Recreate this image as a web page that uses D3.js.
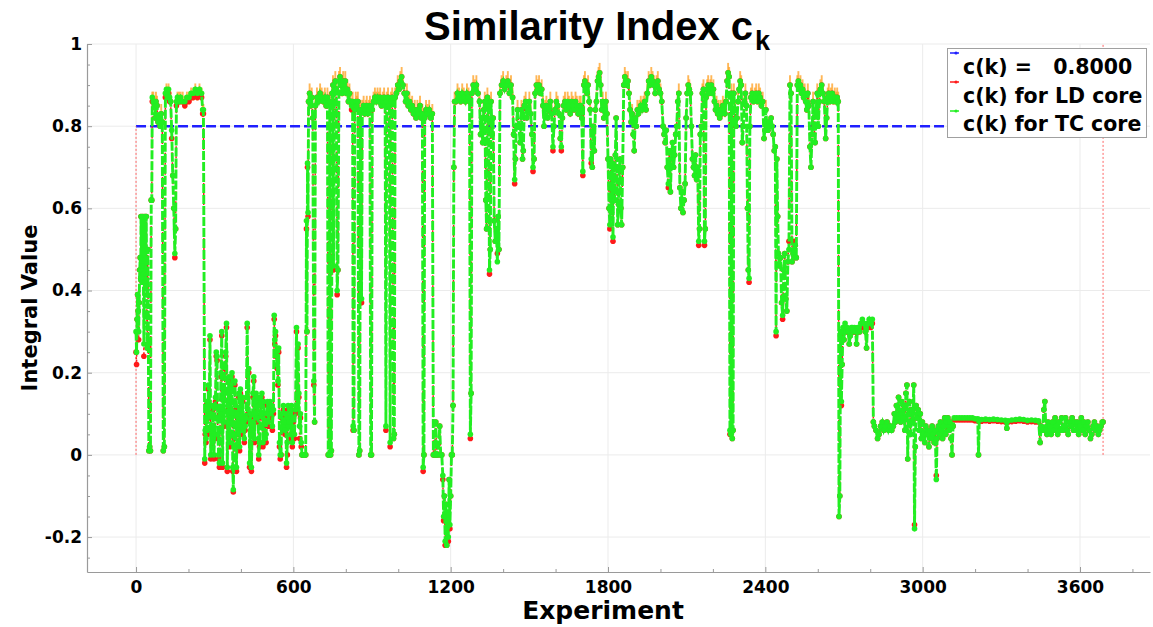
<!DOCTYPE html>
<html><head><meta charset="utf-8">
<script src="https://cdn.jsdelivr.net/npm/d3@7"></script>
<style>body{margin:0;background:#fff}svg{display:block}</style>
</head><body><svg id="chart" width="1153" height="627"></svg>
<script>
// ---------------- DATA ----------------
const experiments = [
0,2,4,6,8,10,12,14,16,18,19,22,24,26,28,30,32,34,37,39,
41,43,45,47,49,52,55,58,60,62,66,70,73,76,80,84,88,92,96,100,
104,108,112,116,120,124,128,132,136,140,144,148,151,154,158,164,170,178,186,194,
202,210,218,226,234,242,250,254,257,
262,264,267,270,273,276,279,282,285,288,291,294,297,300,303,306,309,312,315,318,
321,324,327,330,333,336,339,342,345,348,351,354,357,360,363,366,369,371,374,377,
380,383,386,389,392,395,398,401,404,407,410,413,416,420,424,427,430,433,436,440,
443,446,449,452,455,458,461,464,468,471,474,477,480,484,487,490,493,496,499,502,
505,508,511,514,517,520,524,527,529,532,535,538,541,544,547,550,553,556,559,562,
565,568,571,574,577,580,584,587,590,593,596,600,604,608,612,615,618,621,624,627,
630,633,636,640,644,
647,650,652,654,656,658,662,666,670,674,678,681,684,690,696,702,708,714,720,725,
730,733,736,739,742,745,748,751,753,756,760,764,767,770,774,778,782,786,790,794,
798,802,806,810,814,818,822,826,828,831,834,838,842,846,850,853,856,860,863,868,
872,876,880,884,888,892,895,898,901,906,911,916,921,926,931,936,941,946,950,953,
956,961,966,969,972,977,982,985,988,993,998,1003,1008,1013,1018,1023,1028,1033,1038,1043,
1048,1053,1058,1063,1068,1073,1078,1083,1088,1092,1095,1098,1101,1106,1112,1118,1124,1130,1134,1140,
1143,1146,1152,1158,1162,1166,1170,1173,1176,1179,1182,1185,1188,1191,1194,1197,1200,1203,1206,1209,
1212,1215,
1220,1226,1232,1238,1244,1250,1256,1262,1268,1272,1275,1278,1281,1286,1292,1298,1304,1310,1314,1318,
1322,1326,1330,1334,1337,1340,1344,1348,1351,1354,1358,1362,1366,1370,1374,1378,1381,1384,1388,1394,
1400,1406,1412,1418,1424,1430,1436,1440,1444,1447,1450,1455,1460,1465,1470,1474,1477,1481,1486,1490,
1495,1500,1505,1510,1514,1518,1522,1527,1532,1537,1542,1547,1552,1556,1560,1565,1570,1575,1580,1585,
1590,1594,1598,1603,1608,1613,1618,1622,1626,1631,1636,1641,1646,1651,1656,1661,1666,1671,1676,1681,
1686,1691,
1696,1700,1704,1708,1712,1716,1720,1724,1728,1732,1736,1740,1744,1748,1752,1756,1760,1764,1768,1772,
1776,1780,1784,1788,1792,1796,1800,1804,1807,1810,1813,1816,1819,1822,1825,1828,1831,1834,1837,1840,
1843,1846,1849,1852,1856,1860,1864,1868,1872,1876,1880,1884,1888,1892,1896,1900,1904,1908,1912,1916,
1920,1925,1930,1935,1940,1945,1950,1955,1960,1965,1970,1975,1980,1985,1990,1995,2000,2005,2010,2014,
2018,2022,2026,2030,2034,2038,2042,2046,2050,2054,2058,2062,2066,2070,2074,2078,2082,2086,2090,2094,
2098,2102,2106,2110,2114,2118,2122,2126,2130,2134,2138,2142,2146,2149,2152,2156,2160,2164,2168,2171,
2174,2178,2182,2186,2190,2194,2198,2202,2206,2210,2214,2218,2222,2226,2230,2234,2238,2242,2246,2250,
2254,2258,2262,2265,2268,2271,2274,2277,2280,2284,2288,2292,2296,2300,2304,2308,2312,2316,2320,2324,
2328,2332,2335,2338,2341,2345,2350,2355,2360,2365,2370,2375,2380,2385,2390,2395,2398,2402,2406,2410,
2414,2418,2422,2426,2430,2434,2438,2441,2444,2447,2450,2454,2458,2462,2466,2470,2474,2478,2482,2486,
2490,2494,2498,2502,2506,2510,2514,2518,2522,2526,2530,2534,2538,2542,2546,2550,2554,2558,2562,2566,
2570,2574,2578,2582,2586,2590,2594,2598,2602,2606,2610,2615,2620,2625,2630,2634,2638,2642,2646,2650,
2655,2660,2665,2670,2674,2678,2681,2684,2687,2690,2693,2696,2700,2704,2708,2712,2716,2720,2724,2728,
2732,2736,2740,2744,2748,2752,2756,2760,
2764,2770,2776,2782,2786,2790,2796,2802,2808,2812,2816,2822,2828,2834,2840,2846,2852,2858,2864,2870,
2876,2882,2888,2892,2896,2900,2904,2908,2912,2916,2920,2924,2928,2932,2936,2940,2943,2946,2950,2954,
2958,2962,2966,2969,2972,2975,2979,2983,2987,2991,2995,2999,3003,3008,3012,3016,3020,3024,3028,3032,
3036,3040,3044,3048,3052,3055,3060,3064,3068,3072,3076,3080,3084,3088,3092,3096,3100,3104,3108,3112,
3116,3120,3130,3140,3150,3160,3170,3180,3190,3200,3210,3213,3216,3225,3240,3255,3270,3285,3300,3315,
3321,3326,3340,3355,3370,3385,3400,3415,3430,3442,3448,3452,3458,3462,3466,3470,3474,3478,3482,3486,
3490,3495,3500,3505,3510,3515,3520,3525,3530,3535,3540,3545,3550,3555,3560,3565,3570,3575,3580,3585,
3590,3595,3600,3605,3610,3615,3620,3625,3630,3635,3640,3645,3650,3655,3660,3665,3670,3675,3680,3685,
3688
];

const tcCore = [
.30,.25,.33,.39,.35,.30,.37,.45,.48,.43,.58,.46,.42,.58,.44,.27,.42,.58,.41,.58,
.34,.26,.50,.27,.01,.02,.01,.62,.62,.87,.86,.85,.82,.86,.85,.81,.82,.80,.83,.81,
.01,.02,.88,.89,.87,.89,.87,.86,.79,.68,.60,.49,.55,.86,.87,.86,.87,.86,.86,.87,
.87,.88,.88,.89,.88,.89,.88,.84,.84,
-.01,.06,.04,.13,.06,.17,.10,.29,0,.07,.03,.12,0,.05,.14,.25,.24,.05,0,-.02,
.10,.20,.30,-.02,.15,.08,.22,.25,.32,-.03,.12,.19,.03,.17,.09,.20,-.03,-.085,.05,.18,
.12,-.03,.10,.06,.15,.02,.16,.11,.06,.14,.08,.04,.07,.09,.32,.11,.21,-.02,.10,-.03,
.06,.15,.19,.04,.13,.15,.09,.14,0,.03,.14,.10,.15,.03,.13,.08,.04,.05,.10,.13,
.08,.12,.13,.10,.12,.07,.11,.34,.28,.30,.25,.22,.18,.26,.03,0,0,.10,.07,.12,
.08,.06,.10,-.02,.03,.12,.08,.11,.05,.12,.03,.09,.05,.11,.31,.12,.27,.15,.07,.10,
.03,0,0,0,0,
0,.57,.30,.71,.59,.86,.88,.85,.87,.82,.18,.08,.85,.87,.86,.88,.87,.86,.87,.85,
.87,0,0,.86,0,.01,.88,.90,.46,.88,.91,.89,.40,.45,.91,.92,.90,.88,.91,.89,
.91,.88,.89,.86,.88,.86,.85,.86,.07,.06,.84,.86,.85,.86,0,.01,.84,.38,.84,.85,
.83,.84,.85,.83,.84,.85,0,0,.84,.86,.87,.86,.87,.86,.87,.85,.86,.87,.85,.07,
.86,.87,.85,.03,.86,.87,.04,.05,.87,.88,.90,.89,.91,.92,.90,.88,.86,.88,.85,.86,
.84,.85,.83,.84,.82,.84,.83,.85,.82,.83,-.03,0,.82,.84,.83,.84,.82,.83,0,0,
.08,0,0,.07,0,0,-.05,-.15,-.10,-.21,-.12,-.22,-.16,-.20,-.06,-.17,-.10,0,0,.12,
.70,.86,
.86,.88,.87,.86,.88,.87,.86,.88,.87,.86,.05,.15,.88,.90,.89,.90,.88,.86,.78,.82,
.76,.84,.86,.62,.55,.87,.85,.45,.50,.86,.78,.82,.57,.52,.55,.47,.58,.50,.88,.90,
.91,.89,.90,.91,.88,.90,.87,.78,.67,.72,.80,.84,.80,.76,.84,.72,.74,.85,.86,.82,
.84,.86,.83,.78,.70,.72,.88,.90,.89,.90,.88,.89,.85,.80,.84,.85,.82,.84,.86,.83,
.75,.80,.84,.86,.85,.83,.77,.75,.82,.85,.86,.84,.86,.85,.83,.86,.85,.84,.86,.85,
.83,.85,
.85,.82,.69,.90,.91,.89,.88,.90,.86,.84,.72,.70,.80,.74,.84,.86,.91,.92,.93,.90,
.84,.86,.82,.84,.86,.83,.72,.60,.56,.72,.59,.71,.53,.70,.62,.73,.82,.70,.56,.61,
.70,.72,.60,.56,.70,.90,.92,.91,.90,.91,.88,.84,.81,.83,.78,.74,.82,.80,.84,.83,
.84,.85,.84,.85,.86,.84,.88,.91,.90,.92,.91,.90,.88,.90,.91,.89,.88,.86,.80,.78,
.76,.79,.70,.66,.74,.64,.72,.76,.70,.73,.78,.80,.86,.88,.65,.60,.64,.59,.62,.66,
.82,.88,.90,.89,.88,.80,.72,.70,.68,.73,.67,.70,.52,.55,.78,.80,.88,.89,.52,.55,
.87,.89,.90,.88,.89,.90,.88,.89,.86,.84,.85,.83,.84,.82,.84,.83,.85,.84,.83,.86,
.91,.93,.92,.06,.05,.88,.04,.06,.88,.84,.80,.82,.86,.89,.91,.90,.76,.80,.86,.88,
.85,.60,.45,.43,.80,.87,.88,.86,.87,.88,.86,.88,.87,.85,.86,.77,.79,.84,.80,.79,
.81,.80,.82,.80,.78,.74,.75,.30,.72,.58,.49,.46,.48,.37,.34,.45,.49,.38,.35,.47,
.50,.90,.88,.47,.49,.50,.51,.48,.90,.91,.89,.90,.88,.89,.87,.88,.86,.84,.88,.85,
.75,.70,.78,.86,.80,.76,.84,.88,.80,.86,.89,.90,.88,.86,.77,.82,.87,.88,.86,.87,
.88,.86,.87,.86,.87,.86,-.15,-.10,.30,.13,.22,.31,.28,.32,.30,.31,.30,.27,.29,.31,
.31,.30,.31,.30,.27,.31,.31,.30,
.32,.33,.32,.30,.26,.32,.33,.32,.33,.08,.07,.06,.04,.05,.07,.08,.06,.07,.08,.06,
.07,.06,.07,.10,.08,.12,.09,.14,.10,.08,.13,.09,.12,.06,.15,.17,-.01,.10,.13,.05,
.11,.08,.17,-.18,.02,.12,.09,.11,.06,.10,.04,.08,.05,.03,.07,.05,.06,.02,.06,.04,
.07,.05,.03,.06,-.06,.04,.07,.05,.08,.06,.04,.07,.09,.05,.08,.09,.06,.08,.04,0,
.07,.09,.09,.09,.09,.09,.09,.09,.09,.088,.088,0,.086,.086,.087,.086,.087,.086,.085,.084,
.065,.083,.085,.086,.087,.086,.084,.085,.084,.083,.03,.07,.06,.11,.13,.06,.05,.08,.06,.07,
.05,.08,.06,.09,.07,.05,.08,.06,.09,.06,.07,.09,.06,.05,.08,.07,.09,.06,.08,.06,
.08,.05,.07,.09,.06,.08,.05,.07,.08,.06,.04,.05,.07,.08,.06,.07,.05,.06,.07,.08,
.08
];

const ldCore = [
.25,.22,.33,.39,.35,.28,.37,.45,.48,.43,.58,.46,.42,.58,.44,.24,.42,.58,.41,.58,
.34,.26,.50,.27,.01,.02,.01,.62,.62,.86,.86,.85,.82,.86,.85,.81,.82,.80,.83,.81,
.01,.02,.87,.88,.87,.88,.86,.86,.77,.68,.60,.48,.55,.85,.86,.86,.86,.86,.85,.86,
.86,.87,.87,.88,.87,.88,.87,.83,.83,
-.02,.05,.03,.12,.05,.16,.09,.28,-.01,.06,.02,.11,-.01,.04,.13,.24,.23,.04,-.01,-.03,
.09,.19,.29,-.03,.14,.07,.21,.24,.31,-.04,.11,.18,.02,.16,.08,.19,-.04,-.09,.04,.17,
.11,-.04,.09,.05,.14,.01,.15,.10,.05,.13,.07,.03,.06,.08,.31,.10,.20,-.03,.09,-.04,
.05,.14,.18,.03,.12,.14,.08,.13,-.01,.02,.13,.09,.14,.02,.12,.07,.03,.03,.09,.12,
.07,.11,.12,.09,.11,.06,.10,.33,.27,.29,.24,.21,.17,.25,.02,-.01,0,.09,.06,.11,
.07,.05,.09,-.03,0,.11,.07,.10,.04,.11,.02,.08,.04,.10,.30,.11,.26,.14,.04,.09,
.02,0,0,0,0,
0,.55,.30,.70,.58,.86,.88,.85,.87,.82,.17,.08,.85,.87,.86,.88,.87,.86,.87,.85,
.87,0,0,.86,0,.01,.88,.90,.45,.88,.91,.89,.39,.45,.91,.92,.90,.88,.91,.89,
.91,.88,.89,.86,.88,.86,.84,.86,.06,.06,.84,.86,.85,.86,0,.01,.84,.37,.84,.85,
.83,.84,.85,.83,.84,.85,0,0,.84,.86,.87,.86,.87,.86,.87,.85,.86,.87,.85,.06,
.86,.87,.85,.02,.86,.87,.04,.05,.87,.88,.90,.89,.91,.92,.90,.88,.86,.88,.85,.86,
.84,.85,.83,.84,.82,.84,.83,.85,.82,.83,-.04,0,.82,.84,.83,.84,.82,.83,0,0,
.08,0,0,.07,0,0,-.06,-.16,-.10,-.22,-.12,-.22,-.17,-.21,-.06,-.18,-.10,0,0,.12,
.70,.86,
.86,.88,.87,.86,.88,.87,.86,.88,.87,.86,.04,.15,.88,.90,.89,.90,.88,.86,.78,.82,
.76,.84,.86,.62,.55,.87,.85,.44,.50,.86,.78,.82,.57,.52,.55,.49,.58,.50,.88,.90,
.91,.89,.90,.91,.88,.90,.87,.78,.66,.72,.80,.84,.80,.76,.84,.72,.74,.85,.86,.82,
.84,.86,.83,.78,.69,.72,.88,.90,.89,.90,.88,.89,.85,.80,.84,.85,.82,.84,.86,.83,
.74,.80,.84,.86,.85,.83,.77,.74,.82,.85,.86,.84,.86,.85,.83,.86,.85,.84,.86,.85,
.83,.85,
.85,.82,.68,.90,.91,.89,.88,.90,.86,.84,.71,.70,.80,.74,.84,.86,.91,.92,.93,.90,
.84,.86,.82,.84,.86,.83,.72,.60,.55,.72,.59,.71,.52,.70,.62,.73,.82,.70,.56,.61,
.70,.72,.60,.56,.70,.90,.92,.91,.90,.91,.88,.84,.81,.83,.78,.74,.82,.80,.84,.83,
.84,.85,.84,.85,.86,.84,.88,.91,.90,.92,.91,.90,.88,.90,.91,.89,.88,.86,.80,.78,
.76,.79,.70,.65,.74,.64,.72,.76,.70,.73,.78,.80,.86,.88,.65,.60,.64,.59,.62,.66,
.82,.88,.90,.89,.88,.80,.72,.70,.68,.73,.67,.70,.51,.55,.78,.80,.88,.89,.51,.55,
.87,.89,.90,.88,.89,.90,.88,.89,.86,.84,.85,.83,.84,.82,.84,.83,.85,.84,.83,.86,
.91,.93,.92,.05,.05,.88,.04,.06,.88,.84,.80,.82,.86,.89,.91,.90,.76,.80,.86,.88,
.85,.60,.45,.42,.80,.87,.88,.86,.87,.88,.86,.88,.87,.85,.86,.77,.79,.84,.80,.79,
.81,.80,.82,.80,.78,.74,.75,.29,.72,.58,.49,.46,.48,.37,.33,.45,.49,.38,.35,.47,
.52,.90,.88,.47,.49,.52,.51,.48,.90,.91,.89,.90,.88,.89,.87,.88,.86,.84,.88,.85,
.75,.70,.78,.86,.80,.76,.84,.88,.80,.86,.89,.90,.88,.86,.77,.82,.87,.88,.86,.87,
.88,.86,.87,.86,.87,.86,-.15,-.10,.29,.12,.22,.30,.28,.31,.30,.30,.30,.27,.29,.30,
.30,.30,.30,.30,.27,.30,.30,.30,
.31,.32,.31,.30,.26,.31,.32,.31,.32,.08,.07,.06,.04,.05,.07,.08,.06,.07,.08,.06,
.07,.06,.07,.10,.08,.12,.09,.14,.10,.08,.13,.09,.12,.06,.15,.17,-.01,.10,.13,.05,
.11,.08,.17,-.17,.02,.12,.09,.11,.06,.10,.04,.08,.05,.03,.07,.05,.06,.02,.06,.04,
.07,.05,.03,.06,-.05,.04,.07,.05,.08,.06,.04,.07,.09,.05,.08,.09,.06,.08,.04,0,
.07,.085,.085,.085,.085,.085,.085,.085,.085,.083,.083,0,.082,.082,.083,.082,.083,.082,.081,.080,
.065,.080,.081,.082,.083,.082,.080,.081,.080,.080,.03,.07,.06,.11,.13,.06,.05,.08,.06,.07,
.05,.08,.06,.09,.07,.05,.08,.06,.09,.06,.07,.09,.06,.05,.08,.07,.09,.06,.08,.06,
.08,.05,.07,.09,.06,.08,.05,.07,.08,.06,.04,.05,.07,.08,.06,.07,.05,.06,.07,.08,
.08
];

const thresholdValue = 0.8;
const thresholdRange = [0, 3688];
const edgeLines = [[0, 0, 0.8], [3688, 0, 1.0]];   // [experiment, from, to]
const ldErrLow = 0.008, ldErrHigh = 0.024;           // LD core error bar extents
const xTicks = [0, 600, 1200, 1800, 2400, 3000, 3600];
const xMinorTicks = [-200,200,400,800,1000,1400,1600,2000,2200,2600,2800,3200,3400,3800];
const yTicks = [-0.2, 0, 0.2, 0.4, 0.6, 0.8, 1];
const yMinorTicks = [-0.25,-0.15,-0.1,-0.05,0.05,0.1,0.15,0.25,0.3,0.35,0.45,0.5,0.55,0.65,0.7,0.75,0.85,0.9,0.95];
const legendLabels = ["c(k) =   0.8000", "c(k) for LD core", "c(k) for TC core"];
const legendColors = ["#1f1fff", "#ff1a1a", "#22ee22"];
const titleMain = "Similarity Index c", titleSub = "k";
const xLabel = "Experiment", yLabel = "Integral Value";

// ---------------- CHART ----------------
const svg = d3.select("#chart");
const L = 87, R = 1150, T = 44, B = 572;
const x = d3.scaleLinear().domain([-187, 3867]).range([L, R]);
const y = d3.scaleLinear().domain([-0.285, 1.0]).range([B, T]);
const font = "'DejaVu Sans', Verdana, sans-serif";

svg.append("defs").append("clipPath").attr("id", "clip")
  .append("rect").attr("x", L).attr("y", T).attr("width", R - L).attr("height", B - T);

// grid
const grid = svg.append("g");
grid.selectAll("line.gx").data(xTicks).join("line")
  .attr("x1", d => x(d)).attr("x2", d => x(d)).attr("y1", T).attr("y2", B)
  .attr("stroke", "#ebebeb").attr("stroke-width", 1);
grid.selectAll("line.gy").data(yTicks).join("line")
  .attr("x1", L).attr("x2", R).attr("y1", d => y(d)).attr("y2", d => y(d))
  .attr("stroke", "#ebebeb").attr("stroke-width", 1);

const plot = svg.append("g").attr("clip-path", "url(#clip)");

// threshold line
plot.append("line")
  .attr("x1", x(thresholdRange[0])).attr("x2", x(thresholdRange[1]))
  .attr("y1", y(thresholdValue)).attr("y2", y(thresholdValue))
  .attr("stroke", legendColors[0]).attr("stroke-width", 2.6).attr("stroke-dasharray", "10,4");

// edge dotted lines
plot.selectAll("line.edge").data(edgeLines).join("line")
  .attr("x1", d => x(d[0])).attr("x2", d => x(d[0]))
  .attr("y1", d => y(d[1])).attr("y2", d => y(d[2]))
  .attr("stroke", "#ff6666").attr("stroke-width", 1).attr("stroke-dasharray", "2,2");

const n = Math.min(experiments.length, tcCore.length, ldCore.length);
const tcPts = d3.range(n).map(i => [experiments[i], tcCore[i]]);
const ldPts = d3.range(n).map(i => [experiments[i], ldCore[i]]);
const line = d3.line().x(d => x(d[0])).y(d => y(d[1]));

// orange error bars on LD core
plot.append("g").selectAll("line").data(ldPts.filter(d => d[1] > 0.82)).join("line")
  .attr("x1", d => x(d[0])).attr("x2", d => x(d[0]))
  .attr("y1", d => y(d[1] - ldErrLow)).attr("y2", d => y(d[1] + ldErrHigh))
  .attr("stroke", "#ffa020").attr("stroke-width", 1.9).attr("opacity", 0.75);

// LD core (red)
plot.append("path").datum(ldPts).attr("d", line).attr("fill", "none")
  .attr("stroke", "#ff1a1a").attr("stroke-width", 1.5).attr("stroke-dasharray", "2,3");
plot.append("g").selectAll("circle").data(ldPts).join("circle")
  .attr("cx", d => x(d[0])).attr("cy", d => y(d[1])).attr("r", 2.8).attr("fill", "#ff1a1a");

// TC core (green)
plot.append("path").datum(tcPts).attr("d", line).attr("fill", "none")
  .attr("stroke", "#22ee22").attr("stroke-width", 2.9).attr("stroke-dasharray", "9,2");
plot.append("g").selectAll("circle").data(tcPts).join("circle")
  .attr("cx", d => x(d[0])).attr("cy", d => y(d[1])).attr("r", 2.8).attr("fill", "#22ee22");

// axes
const axisColor = "#9a9a9a";
const fmtY = d => (d === 0 || d === 1) ? String(d) : d.toFixed(1);
const gx = svg.append("g").attr("transform", `translate(0,${B})`)
  .call(d3.axisBottom(x).tickValues(xTicks).tickSizeInner(-5).tickSizeOuter(0).tickPadding(9).tickFormat(d => String(d)));
svg.append("g").attr("transform", `translate(0,${B})`)
  .call(d3.axisBottom(x).tickValues(xMinorTicks.filter(v => x(v) > L && x(v) < R)).tickSizeInner(-3).tickSizeOuter(0).tickFormat(""))
  .call(g => g.select(".domain").remove()).selectAll("line").attr("stroke", axisColor);
const gy = svg.append("g").attr("transform", `translate(${L},0)`)
  .call(d3.axisLeft(y).tickValues(yTicks).tickSizeInner(-5).tickSizeOuter(0).tickPadding(5).tickFormat(fmtY));
svg.append("g").attr("transform", `translate(${L},0)`)
  .call(d3.axisLeft(y).tickValues(yMinorTicks).tickSizeInner(-3).tickSizeOuter(0).tickFormat(""))
  .call(g => g.select(".domain").remove()).selectAll("line").attr("stroke", axisColor);
[gx, gy].forEach(g => {
  g.select(".domain").attr("stroke", axisColor).attr("stroke-width", 1.2);
  g.selectAll(".tick line").attr("stroke", axisColor);
  g.selectAll("text").attr("font-family", font).attr("font-weight", "bold")
    .attr("font-size", 17).attr("fill", "#000");
});

// axis titles
svg.append("text").attr("x", 603).attr("y", 619).attr("text-anchor", "middle")
  .attr("font-family", font).attr("font-weight", "bold").attr("font-size", 25).text(xLabel);
svg.append("text").attr("transform", "translate(37,308) rotate(-90)").attr("text-anchor", "middle")
  .attr("font-family", font).attr("font-weight", "bold").attr("font-size", 21).text(yLabel);

// title
const title = svg.append("text").attr("x", 424).attr("y", 40)
  .attr("font-family", "'Liberation Sans', Arial, sans-serif").attr("font-weight", "bold").attr("font-size", 40);
title.append("tspan").text(titleMain);
title.append("tspan").attr("font-size", 27).attr("dx", 2).attr("dy", 10).text(titleSub);

// legend
const lg = svg.append("g");
lg.append("rect").attr("x", 947.5).attr("y", 48.5).attr("width", 199).attr("height", 89)
  .attr("fill", "#fff").attr("stroke", "#a0a0a0").attr("stroke-width", 1);
legendLabels.forEach((lab, i) => {
  const yy = 53 + i * 29;
  lg.append("line").attr("x1", 950).attr("x2", 959).attr("y1", yy).attr("y2", yy)
    .attr("stroke", legendColors[i]).attr("stroke-width", 1.5);
  lg.append("circle").attr("cx", 956).attr("cy", yy).attr("r", 1.6).attr("fill", legendColors[i]);
  lg.append("text").attr("x", 963).attr("y", 74 + i * 28.5)
    .attr("font-family", font).attr("font-weight", "bold").attr("font-size", 20.5)
    .style("white-space", "pre").attr("xml:space", "preserve").text(lab);
});
</script></body></html>
